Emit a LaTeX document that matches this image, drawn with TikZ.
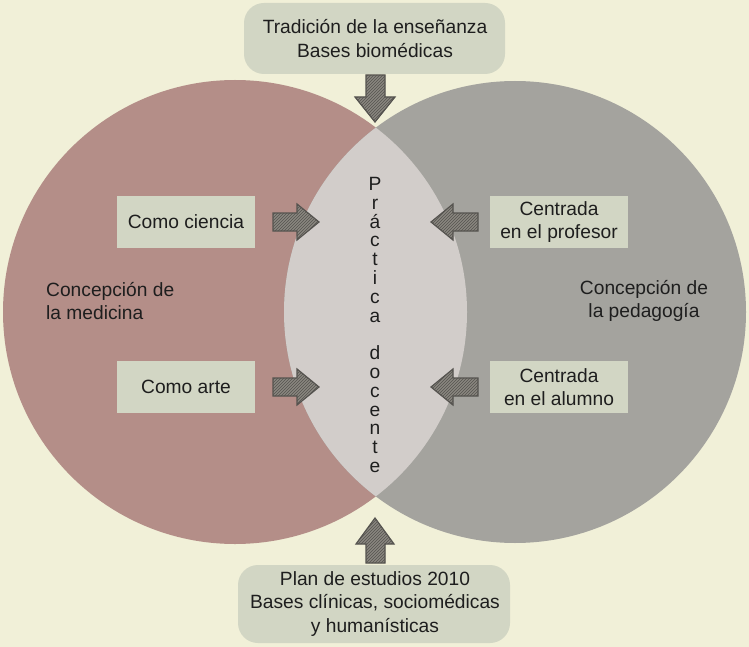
\documentclass[tikz,border=0pt]{standalone}
\usepackage{fontspec}
\setmainfont{Liberation Sans}
\usetikzlibrary{patterns}
\definecolor{bg}{HTML}{F1F0D8}
\definecolor{leftc}{HTML}{B48E88}
\definecolor{rightc}{HTML}{A4A39E}
\definecolor{lensc}{HTML}{D2CDCA}
\definecolor{boxc}{HTML}{D2D6C4}
\definecolor{arrfill}{HTML}{8A8780}
\definecolor{arrline}{HTML}{55534F}
\definecolor{txt}{HTML}{1E1E1E}
\tikzset{
  lbl/.style={font=\fontsize{19.2}{23.5}\selectfont, text=txt, align=center, inner sep=0pt},
  sbox/.style={fill=boxc, draw=none, minimum width=138pt, minimum height=52pt, inner sep=0pt},
  rbox/.style={fill=boxc, draw=none, rounded corners=20pt},
  blockarrow/.style={draw=arrline, line width=1.2pt, line join=miter,
     preaction={fill=arrfill}, pattern=north east lines, pattern color=arrline},
  vtext/.style={font=\fontsize{19.2}{18.8}\selectfont, text=txt, align=center, inner sep=0pt}
}
\begin{document}
\begin{tikzpicture}[x=1pt,y=-1pt]
\fill[bg] (0,0) rectangle (749,647);
\useasboundingbox (0,0) rectangle (749,647);
% circles
\fill[leftc] (235,312) circle[radius=232];
\fill[rightc] (515,312) circle[radius=231];
\begin{scope}
  \clip (235,312) circle[radius=232];
  \fill[lensc] (515,312) circle[radius=231];
\end{scope}
% top and bottom boxes
\fill[rbox] (244,3) rectangle (505,74);
\node[lbl] (top) at (375,38.5) {Tradición de la enseñanza\\Bases biomédicas};
\fill[rbox] (238,565) rectangle (510,643);
\node[lbl] (bot) at (375,604) {Plan de estudios 2010\\Bases clínicas, sociomédicas\\y humanísticas};
% side boxes
\node[sbox] (cc) at (186,222) {};
\node[lbl] at (cc) {Como ciencia};
\node[sbox] (ca) at (186,387) {};
\node[lbl] at (ca) {Como arte};
\node[sbox] (cp) at (559,222) {};
\node[lbl] at (cp) {Centrada\\en el profesor};
\node[sbox] (cal) at (559,387) {};
\node[lbl] at (cal) {Centrada\\en el alumno};
% circle labels
\node[lbl, align=left, anchor=west] (med) at (46,301) {Concepción de\\la medicina};
\node[lbl] (ped) at (644,301) {Concepción de\\la pedagogía};
% vertical text
\node[vtext] (prac) at (375,325) {P\\r\\á\\c\\t\\i\\c\\a\\\mbox{}\\d\\o\\c\\e\\n\\t\\e};
% arrows
% top down arrow
\draw[blockarrow] (366,75) -- (385,75) -- (385,97) -- (395,97) -- (375,122) -- (355,97) -- (366,97) -- cycle;
% bottom up arrow
\draw[blockarrow] (366,563) -- (385,563) -- (385,544) -- (394,544) -- (375,518) -- (356,544) -- (366,544) -- cycle;
% side arrows
\foreach \yy in {222,387}{
  \draw[blockarrow] (273,\yy-9) -- (297,\yy-9) -- (297,\yy-18) -- (319,\yy) -- (297,\yy+18) -- (297,\yy+9) -- (273,\yy+9) -- cycle;
  \draw[blockarrow] (478,\yy-9) -- (453,\yy-9) -- (453,\yy-18) -- (431,\yy) -- (453,\yy+18) -- (453,\yy+9) -- (478,\yy+9) -- cycle;
}
\end{tikzpicture}
\end{document}
